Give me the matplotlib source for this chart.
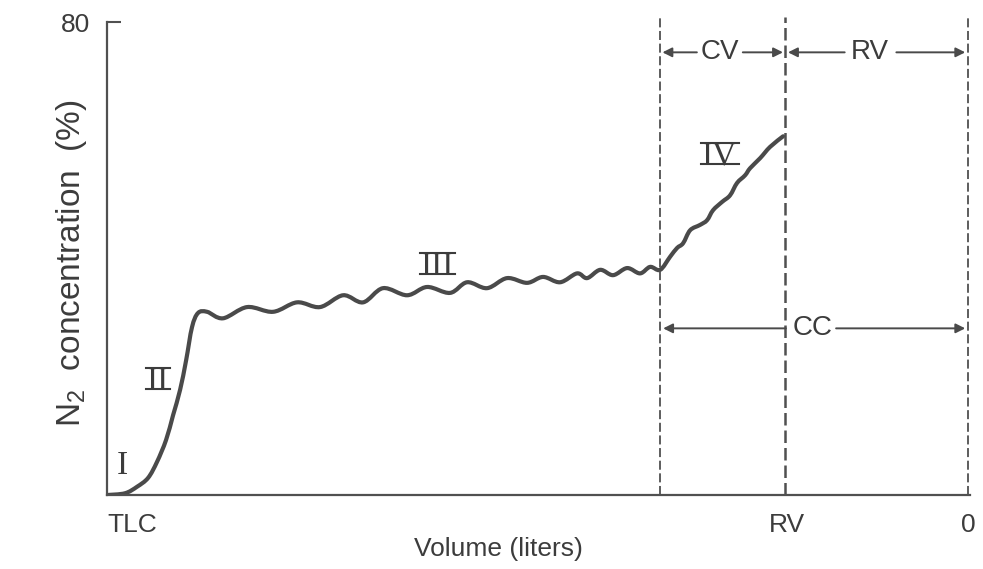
import numpy as np
import matplotlib.pyplot as plt
from matplotlib.path import Path
from matplotlib.patches import PathPatch
from matplotlib.lines import Line2D
from matplotlib.textpath import TextPath
from matplotlib.font_manager import FontProperties
from matplotlib.transforms import IdentityTransform

plt.rcParams["font.family"] = ["Liberation Sans", "DejaVu Sans"]
plt.rcParams["mathtext.fontset"] = "custom"
plt.rcParams["mathtext.rm"] = "Liberation Sans"

# expired volume (L, from TLC) vs N2 concentration (%)
volume = [
    0.000, 0.125, 0.209, 0.286, 0.348, 0.411, 0.460, 0.509, 0.551, 0.592,
    0.634, 0.697,
    0.808, 0.976, 1.157, 1.324, 1.484, 1.645, 1.784, 1.923, 2.091, 2.230,
    2.390, 2.509, 2.648, 2.787, 2.927, 3.038, 3.157, 3.275, 3.345, 3.436,
    3.526, 3.624, 3.714, 3.784, 3.854,
    3.923, 3.972, 4.014, 4.063, 4.132, 4.181, 4.223, 4.286, 4.341, 4.390,
    4.446, 4.481, 4.551, 4.620, 4.711,
]
n2 = [
    0.0, 0.3, 1.4, 2.9, 5.6, 9.3, 13.5, 17.8, 22.8, 28.4,
    30.8, 31.0,
    29.9, 31.8, 31.0, 32.6, 31.8, 33.8, 32.6, 35.0, 33.8, 35.2,
    34.2, 36.0, 35.0, 36.7, 35.9, 36.9, 36.0, 37.5, 36.7, 38.1,
    37.2, 38.4, 37.5, 38.6, 38.1,
    40.3, 41.8, 42.6, 44.8, 45.7, 46.5, 48.2, 49.6, 50.7, 52.8,
    54.1, 55.3, 57.0, 58.9, 60.7,
]

phase_labels = ["I", "II", "III", "IV"]
phase_x = [0.105, 0.355, 2.30, 4.27]
phase_y = [3.6, 17.8, 37.3, 56.0]

boundary_x = [3.854, 4.725, 6.0]
tick_pos = [0.0, 4.74, 6.0]
tick_labels = ["TLC", "RV", "0"]

ink = "#3c3c3c"


def smooth_path(x, y):
    p = np.column_stack([x, y])
    ext = np.vstack([p[0], p, p[-1]])
    verts = [p[0]]
    codes = [Path.MOVETO]
    for i in range(1, len(ext) - 2):
        c1 = ext[i] + (ext[i + 1] - ext[i - 1]) / 6
        c2 = ext[i + 1] - (ext[i + 2] - ext[i]) / 6
        verts += [c1, c2, ext[i + 1]]
        codes += [Path.CURVE4] * 3
    return Path(verts, codes)


fig = plt.figure(figsize=(9.83, 5.69), dpi=100)
ax = fig.add_axes([0.1089, 0.130, 0.878, 0.831])
ax.set_xlim(0, 6.014)
ax.set_ylim(0, 80)

for s in ["top", "right"]:
    ax.spines[s].set_visible(False)
for s in ["left", "bottom"]:
    ax.spines[s].set_linewidth(1.6)
    ax.spines[s].set_color("#505050")

curve = PathPatch(smooth_path(volume, n2), fill=False, lw=3.0, ec="#4a4a4a",
                  capstyle="round", joinstyle="round")
ax.add_patch(curve)

for i, bx in enumerate(boundary_x):
    ax.plot([bx, bx], [0, 80.8], ls=(0, (5, 2)), lw=1.8 if i == 1 else 1.3,
            color="#505050", clip_on=False)

# span arrows
arrow_kw = dict(arrowstyle="-|>", lw=1.4, color="#4a4a4a", mutation_scale=14,
                shrinkA=0, shrinkB=0)
spans = [
    ("CV", 4.27, 74.9, (4.11, 3.87), (4.43, 4.71)),
    ("RV", 5.317, 74.9, (5.14, 4.745), (5.50, 5.98)),
    ("CC", 4.916, 28.2, (4.73, 3.875), (5.08, 5.98)),
]
for lab, tx, ty, left, right in spans:
    ax.text(tx, ty, lab, ha="center", va="center", fontsize=20, color=ink)
    ax.annotate("", xy=(left[1], ty), xytext=(left[0], ty), arrowprops=arrow_kw)
    ax.annotate("", xy=(right[1], ty), xytext=(right[0], ty), arrowprops=arrow_kw)

# phase numerals with top/bottom bars
fp = FontProperties(family="Liberation Serif", size=24)
k = fig.dpi / 72
for lab, px, py in zip(phase_labels, phase_x, phase_y):
    ax.text(px, py, lab, fontproperties=fp, ha="center", va="baseline", color=ink)
    if len(lab) > 1:
        e = TextPath((0, 0), lab, prop=fp).get_extents()
        bx, by = ax.transData.transform((px, py))
        w = e.width * k / 2 + 2
        for yy in (by + e.y0 * k + 0.5, by + e.y1 * k - 0.5):
            fig.add_artist(Line2D([bx - w, bx + w], [yy, yy], lw=1.5, color=ink,
                                  transform=IdentityTransform()))

ax.set_xticks(tick_pos, tick_labels)
ax.tick_params(axis="x", length=0, pad=13, labelsize=19, labelcolor=ink)
ax.get_xticklabels()[0].set_ha("left")
ax.set_yticks([80])
ax.tick_params(axis="y", direction="in", length=10, width=1.5, color="#505050",
               pad=12, labelsize=19, labelcolor=ink)

ax.set_ylabel(r"N$_\mathregular{2}$  concentration  (%)", fontsize=24, color=ink)
ax.yaxis.set_label_coords(-0.021, 0.49)
ax.set_xlabel("Volume (liters)", fontsize=19, color=ink)
ax.xaxis.set_label_coords(0.453, -0.088)

fig.savefig("out.png", dpi=100)
